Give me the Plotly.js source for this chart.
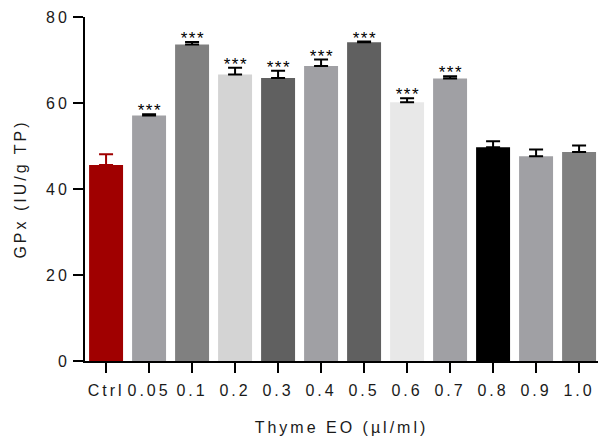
<!DOCTYPE html>
<html>
<head>
<meta charset="utf-8">
<script src="https://cdn.plot.ly/plotly-3.0.1.min.js"></script>
<style>
html,body{margin:0;padding:0;background:#fff;}
#chart{width:598px;height:442px;}
#chart svg text{letter-spacing:3px !important;}
#chart svg .annotation-text{letter-spacing:1.5px !important;}
</style>
</head>
<body>
<div id="chart"></div>
<script>
const categories = ["Ctrl","0.05","0.1","0.2","0.3","0.4","0.5","0.6","0.7","0.8","0.9","1.0"];
const values = [45.6, 57.1, 73.6, 66.6, 65.8, 68.6, 74.1, 60.2, 65.7, 49.7, 47.6, 48.6];
const errors = [2.5, 0.3, 0.6, 1.6, 1.7, 1.5, 0.2, 0.9, 0.5, 1.4, 1.6, 1.5];
const stars = ["", "***", "***", "***", "***", "***", "***", "***", "***", "", "", ""];
const colors = ["#a00000","#a0a0a4","#808080","#d4d4d4","#606060","#a0a0a4","#606060","#e8e8e8","#a0a0a4","#000000","#a0a0a4","#808080"];

const ctrlTrace = {
  type: 'bar',
  x: [categories[0]],
  y: [values[0]],
  width: 0.79,
  marker: {color: [colors[0]]},
  error_y: {type: 'data', symmetric: false, array: [errors[0]], arrayminus: [0], color: '#a00000', thickness: 2, width: 7},
  hoverinfo: 'none'
};
const restTrace = {
  type: 'bar',
  x: categories.slice(1),
  y: values.slice(1),
  width: 0.79,
  marker: {color: colors.slice(1)},
  error_y: {type: 'data', symmetric: false, array: errors.slice(1), arrayminus: errors.slice(1).map(() => 0), color: '#000000', thickness: 2, width: 7},
  hoverinfo: 'none'
};

const annotations = [];
categories.forEach((c, i) => {
  if (stars[i]) {
    annotations.push({
      x: i, y: values[i] + errors[i], xref: 'x', yref: 'y',
      text: stars[i], showarrow: false, yanchor: 'bottom', yshift: -8, xshift: 1,
      font: {family: 'Liberation Sans, Arial', size: 17, color: '#000'}
    });
  }
});

const layout = {
  width: 598, height: 442,
  margin: {l: 85, r: 0, t: 17, b: 81},
  paper_bgcolor: '#fff', plot_bgcolor: '#fff',
  showlegend: false,
  barmode: 'overlay',
  font: {family: 'Liberation Sans, Arial', color: '#000', size: 16},
  xaxis: {
    type: 'category',
    categoryorder: 'array', categoryarray: categories,
    range: [-0.49, 11.44],
    showline: true, linecolor: '#000', linewidth: 2,
    ticks: 'outside', ticklen: 10, tickwidth: 2, tickcolor: '#000',
    ticklabelstandoff: 4,
    showgrid: false, zeroline: false,
    tickfont: {size: 16, color: '#1a1a1a'},
    title: {text: 'Thyme EO (µl/ml)', font: {size: 16, color: '#1a1a1a'}, standoff: 24}
  },
  yaxis: {
    range: [0, 80],
    tickvals: [0, 20, 40, 60, 80],
    showline: true, linecolor: '#000', linewidth: 2,
    ticks: 'outside', ticklen: 10, tickwidth: 2, tickcolor: '#000',
    showgrid: false, zeroline: false,
    tickfont: {size: 16, color: '#1a1a1a'},
    title: {text: 'GPx (IU/g TP)', font: {size: 16, color: '#1a1a1a'}, standoff: 21}
  },
  annotations: annotations
};

Plotly.newPlot('chart', [ctrlTrace, restTrace], layout, {staticPlot: true, displayModeBar: false});
</script>
</body>
</html>
